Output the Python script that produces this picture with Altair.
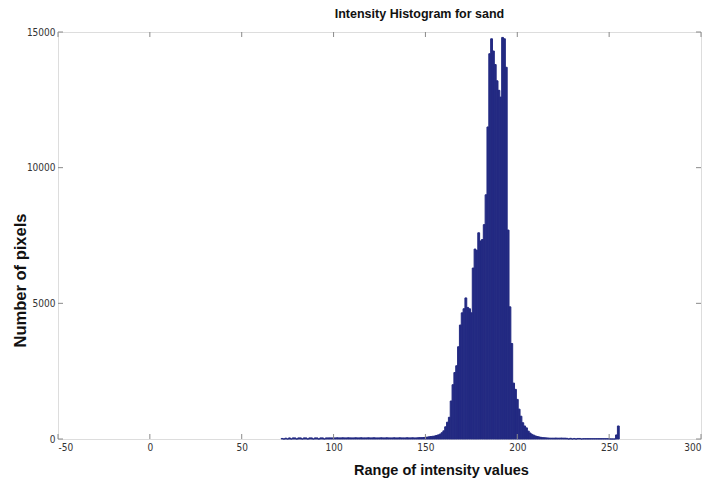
import altair as alt
import pandas as pd

# Histogram bins (intensity value) and counts
low_bins = list(range(72, 151))
low_counts = [20, 0, 30, 0, 40, 0, 40, 40, 0, 40, 40, 0, 40, 40, 0, 40, 40, 0, 40, 40,
              0, 40, 40, 0, 40, 40, 40, 40,
              40, 40, 45, 40, 40, 45, 40, 40, 45, 40, 40, 40, 45, 40, 40, 45, 40, 40,
              40, 45, 40, 40, 45, 40, 40, 40, 45, 40, 40, 45, 40, 40, 40, 45, 40, 40,
              45, 40, 40, 40, 45, 40, 40, 45, 40,
              40, 45, 50, 50, 55, 60]

peak_bins = list(range(151, 218))
peak_counts = [70, 80, 90, 100, 110, 130, 150, 180, 230, 300, 450, 620, 800,
               1400, 2000, 2450, 2700, 3400, 4200, 4650, 4800, 5200, 4850, 4800,
               4650, 6300, 7000, 6950, 7600, 7300, 7350, 7900, 9000, 11500, 14200,
               14750, 14300, 13800, 13200, 12850, 12600, 14800, 14750, 13700, 7700,
               4870, 3520, 2060, 1830, 1460, 1100, 840, 600, 480, 410, 290, 220,
               170, 140, 110, 90, 75, 60, 50, 45, 40, 35]

tail_bins = list(range(218, 256))
tail_counts = [30, 30, 30, 35, 30, 30, 35, 30, 30, 25, 0, 25, 0, 20, 0, 20, 20, 0,
               10, 10, 10, 10, 10, 10, 10, 10, 10, 10, 10, 10, 10, 10, 10, 0, 0,
               0, 150, 480]

x_ticks = [-50, 0, 50, 100, 150, 200, 250, 300]
y_ticks = [0, 5000, 10000, 15000]

bins = low_bins + peak_bins + tail_bins
counts = low_counts + peak_counts + tail_counts
df = pd.DataFrame({"bin": bins, "count": counts})

W, H = 643, 407
BAR = "#232a82"
FRAME = "#8a8a8a"
LABEL_FONT = "Liberation Sans Narrow, DejaVu Sans Condensed, Liberation Sans"
TITLE_FONT = "Liberation Sans"

xscale = alt.Scale(domain=[-50, 300], nice=False, zero=False)
yscale = alt.Scale(domain=[0, 15000], nice=False)

bars = alt.Chart(df).transform_calculate(
    lo="datum.bin - 0.5", hi="datum.bin + 0.5"
).mark_rect(color=BAR, stroke=BAR, strokeWidth=1.0).encode(
    x=alt.X("lo:Q", scale=xscale,
            axis=alt.Axis(values=x_ticks, title="Range of intensity values",
                          ticks=False, domain=False, grid=False,
                          labelExpr="'' + datum.value",
                          labelFont=LABEL_FONT, labelFontSize=10, labelColor="#333",
                          labelPadding=3,
                          titleFont=TITLE_FONT, titleFontSize=14.5, titleFontWeight="bold",
                          titleColor="#111", titleX=383, titleY=31,
                          titleBaseline="middle")),
    x2="hi:Q",
    y=alt.Y("count:Q", scale=yscale,
            axis=alt.Axis(values=y_ticks, title="Number of pixels",
                          ticks=False, domain=False, grid=False,
                          labelExpr="'' + datum.value",
                          labelFont=LABEL_FONT, labelFontSize=10, labelColor="#333",
                          labelPadding=3,
                          titleFont=TITLE_FONT, titleFontSize=16.5, titleFontWeight="bold",
                          titleColor="#111", titleX=-38, titleY=248,
                          titleBaseline="middle", titleAngle=270)),
    y2=alt.datum(0),
)

xt = pd.DataFrame({"lo": x_ticks})
yt = pd.DataFrame({"count": y_ticks})

bottom_ticks = alt.Chart(xt).mark_rule(color=FRAME, strokeWidth=1).encode(
    x=alt.X("lo:Q", scale=xscale),
    y=alt.value(H), y2=alt.value(H - 5))
top_ticks = alt.Chart(xt).mark_rule(color=FRAME, strokeWidth=1).encode(
    x=alt.X("lo:Q", scale=xscale),
    y=alt.value(0), y2=alt.value(5))
left_ticks = alt.Chart(yt).mark_rule(color=FRAME, strokeWidth=1).encode(
    y=alt.Y("count:Q", scale=yscale),
    x=alt.value(0), x2=alt.value(5))
right_ticks = alt.Chart(yt).mark_rule(color=FRAME, strokeWidth=1).encode(
    y=alt.Y("count:Q", scale=yscale),
    x=alt.value(W), x2=alt.value(W - 5))

chart = alt.layer(bars, bottom_ticks, top_ticks, left_ticks, right_ticks).properties(
    width=W, height=H,
    autosize=alt.AutoSizeParams(type="none"),
    padding={"left": 50, "top": 24, "right": 8, "bottom": 40},
    title=alt.TitleParams("Intensity Histogram for sand", font=TITLE_FONT,
                          fontSize=12.5, fontWeight="bold", color="#111",
                          anchor="middle", offset=7, dx=40),
).configure_view(stroke=FRAME, strokeWidth=1.2).configure(background="white")

chart.save("out.html", embed_options={"renderer": "svg", "actions": False})
